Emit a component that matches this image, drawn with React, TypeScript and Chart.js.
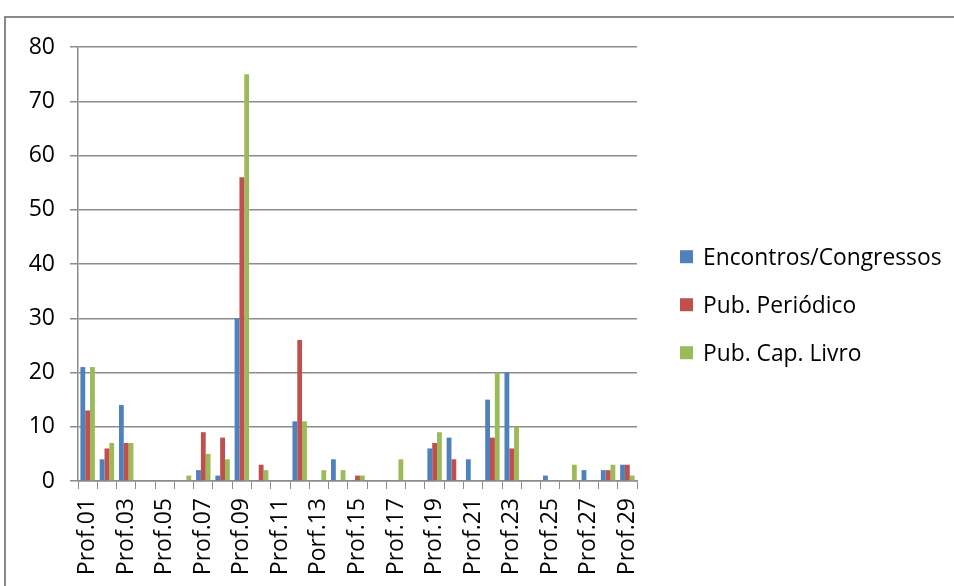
import React, { useEffect, useRef } from "react";
import { Chart, registerables } from "chart.js";

Chart.register(...registerables);

const categories = [
  "Prof.01", "Prof.02", "Prof.03", "Prof.04", "Prof.05", "Prof.06", "Prof.07", "Prof.08",
  "Prof.09", "Prof.10", "Prof.11", "Prof.12", "Porf.13", "Prof.14", "Prof.15", "Prof.16",
  "Prof.17", "Prof.18", "Prof.19", "Prof.20", "Prof.21", "Prof.22", "Prof.23", "Prof.24",
  "Prof.25", "Prof.26", "Prof.27", "Prof.28", "Prof.29",
];

const seriesNames = ["Encontros/Congressos", "Pub. Periódico", "Pub. Cap. Livro"];

const encontros = [21, 4, 14, 0, 0, 0, 2, 1, 30, 0, 0, 11, 0, 4, 0, 0, 0, 0, 6, 8, 4, 15, 20, 0, 1, 0, 2, 2, 3];
const periodico = [13, 6, 7, 0, 0, 0, 9, 8, 56, 3, 0, 26, 0, 0, 1, 0, 0, 0, 7, 4, 0, 8, 6, 0, 0, 0, 0, 2, 3];
const capLivro = [21, 7, 7, 0, 0, 1, 5, 4, 75, 2, 0, 11, 2, 2, 1, 0, 4, 0, 9, 0, 0, 20, 10, 0, 0, 3, 0, 3, 1];

const yTicks = [0, 10, 20, 30, 40, 50, 60, 70, 80];

const colors = ["#4F81BD", "#C0504D", "#9BBB59"];
const axisGray = "#8C8C8C";
const FONT = "'Open Sans', 'DejaVu Sans', sans-serif";

// Legend drawn on the canvas from the chart's own dataset labels and colours
const sideLegend = {
  id: "sideLegend",
  afterDraw(chart: any) {
    const ctx = chart.ctx;
    const area = chart.chartArea;
    const sets = chart.data.datasets;
    const box = 13;
    const gap = 48;
    const x0 = area.right + 43;
    const midY = chart.height * 0.52;
    const firstY = midY - ((sets.length - 1) * gap) / 2;
    ctx.save();
    ctx.font = `22.8px ${FONT}`;
    ctx.textAlign = "left";
    ctx.textBaseline = "alphabetic";
    sets.forEach((ds: any, i: number) => {
      const cy = firstY + i * gap;
      ctx.fillStyle = ds.backgroundColor;
      ctx.fillRect(x0, cy - box / 2, box, box);
      ctx.fillStyle = "#000";
      ctx.fillText(ds.label, x0 + box + 10, cy + 8);
    });
    ctx.restore();
  },
};

export default function App() {
  const ref = useRef<HTMLCanvasElement | null>(null);

  useEffect(() => {
    if (!ref.current) return;
    const chart = new Chart(ref.current, {
      type: "bar",
      data: {
        labels: categories,
        datasets: [encontros, periodico, capLivro].map((d, i) => ({
          label: seriesNames[i],
          data: d,
          backgroundColor: colors[i],
          borderWidth: 0,
          categoryPercentage: 0.75,
          barPercentage: 1.0,
        })),
      },
      options: {
        animation: false,
        responsive: false,
        maintainAspectRatio: false,
        layout: { padding: { left: 28, top: 47, right: 317, bottom: 0 } },
        plugins: {
          tooltip: { enabled: false },
          legend: { display: false },
        },
        scales: {
          x: {
            offset: true,
            grid: {
              display: true,
              drawOnChartArea: false,
              drawTicks: true,
              tickLength: 8,
              color: axisGray,
              offset: true,
            },
            border: { display: true, color: axisGray, width: 1.5 },
            ticks: {
              autoSkip: false,
              maxRotation: 90,
              minRotation: 90,
              padding: 9,
              color: "#000",
              font: { family: FONT, size: 23 },
              callback: (_v: any, idx: number) => (idx % 2 === 0 ? categories[idx] : ""),
            },
            afterFit: (scale: any) => {
              scale.height = 105;
            },
          },
          y: {
            min: yTicks[0],
            max: yTicks[yTicks.length - 1],
            grid: {
              color: axisGray,
              lineWidth: 1.5,
              drawTicks: true,
              tickLength: 8,
            },
            border: { display: true, color: axisGray, width: 1.5 },
            ticks: {
              stepSize: 10,
              padding: 15,
              color: "#000",
              font: { family: FONT, size: 23 },
            },
            afterFit: (scale: any) => {
              scale.width = 50;
            },
          },
        },
      },
      plugins: [sideLegend],
    });
    return () => chart.destroy();
  }, []);

  return (
    <div style={{ position: "fixed", left: 0, top: 0, width: 954, height: 586, overflow: "hidden", background: "#fff" }}>
      <div
        style={{
          position: "absolute",
          left: 4,
          top: 16,
          width: 1100,
          height: 800,
          borderTop: "2px solid #8a8a8a",
          borderLeft: "2px solid #8a8a8a",
          boxSizing: "border-box",
        }}
      />
      <canvas ref={ref} width={954} height={586} style={{ position: "absolute", left: 0, top: 0 }} />
    </div>
  );
}
